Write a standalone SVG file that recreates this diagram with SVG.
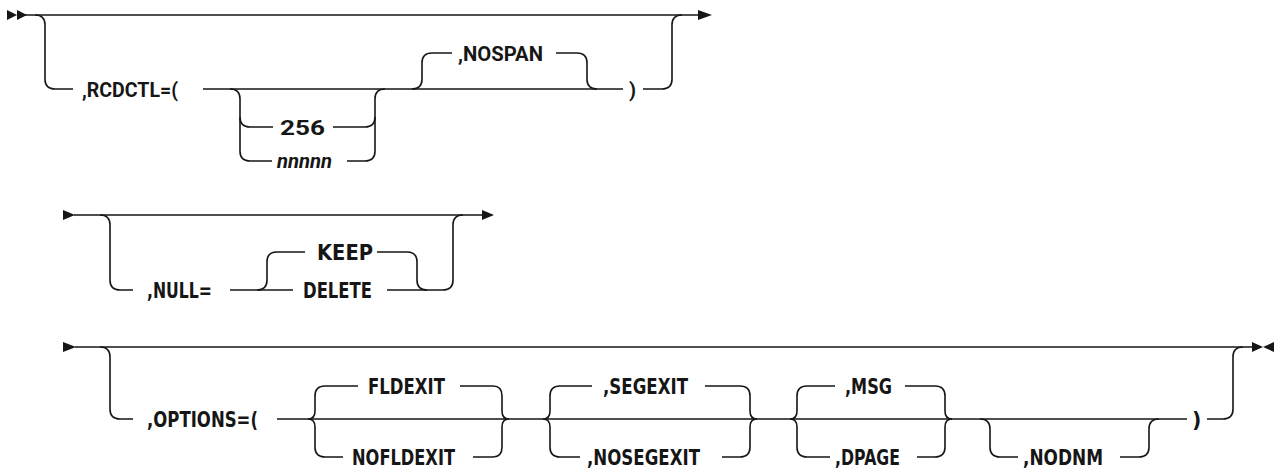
<svg xmlns="http://www.w3.org/2000/svg" width="1282" height="472" viewBox="0 0 1282 472">
<style>
.c{fill:none;stroke:#161616;stroke-width:1.6;stroke-linecap:butt}
.a{fill:#161616}
text{fill:#161616;font-weight:700}
.r1{font-family:Roboto,"Liberation Sans",sans-serif;font-size:20px}
.r2{font-family:"DejaVu Sans","Open Sans",sans-serif;font-size:20.5px}
.it{font-style:italic}
</style>
<rect width="1282" height="472" fill="#ffffff"/>
<g id="connectors">
<!-- row 1 -->
<polygon class="a" points="7,10 17,15 7,20"/>
<polygon class="a" points="17,10 27,15 17,20"/>
<path class="c" d="M25,15 H699"/>
<polygon class="a" points="698,10 712,15 698,20"/>
<path class="c" d="M35,15 Q45,15 45,25 V79 Q45,89 55,89 H73"/>
<path class="c" d="M203,89 H623"/>
<path class="c" d="M230,89 Q240,89 240,99 V151 Q240,161 250,161 H272"/>
<path class="c" d="M240,117 Q240,127 250,127 H273"/>
<path class="c" d="M333,127 H365 Q375,127 375,117"/>
<path class="c" d="M347,161 H365 Q375,161 375,151 V99 Q375,89 385,89"/>
<path class="c" d="M412,89 Q422,89 422,79 V63 Q422,53 432,53 H452"/>
<path class="c" d="M556,53 H577 Q587,53 587,63 V79 Q587,89 597,89"/>
<path class="c" d="M643,89 H662 Q672,89 672,79 V25 Q672,15 682,15"/>
<!-- row 2 -->
<polygon class="a" points="63,210 75,215 63,220"/>
<path class="c" d="M74,215 H483"/>
<polygon class="a" points="482,210 494,215 482,220"/>
<path class="c" d="M100,215 Q110,215 110,225 V280 Q110,290 120,290 H133"/>
<path class="c" d="M230,290 H293"/>
<path class="c" d="M387,290 H443 Q453,290 453,280 V225 Q453,215 463,215"/>
<path class="c" d="M257,290 Q267,290 267,280 V262 Q267,252 277,252 H305"/>
<path class="c" d="M377,252 H407 Q417,252 417,262 V280 Q417,290 427,290"/>
<!-- row 3 -->
<polygon class="a" points="63,342 76,347 63,352"/>
<path class="c" d="M75,347 H1253"/>
<polygon class="a" points="1252,342 1263,347 1252,352"/>
<polygon class="a" points="1274,342 1263,347 1274,352"/>
<path class="c" d="M100,347 Q110,347 110,357 V409 Q110,419 120,419 H133"/>
<path class="c" d="M277,419 H1187"/>
<path class="c" d="M1207,419 H1223 Q1233,419 1233,409 V357 Q1233,347 1243,347"/>
<!-- FLDEXIT group -->
<path class="c" d="M325,386 Q315,386 315,396 V411 Q315,419 308,419 Q315,419 315,427 V447 Q315,457 325,457"/>
<path class="c" d="M325,386 H358 M460,386 H493 M325,457 H343 M473,457 H493"/>
<path class="c" d="M493,386 Q502,386 502,396 V411 Q502,419 509,419 Q502,419 502,427 V447 Q502,457 493,457"/>
<!-- SEGEXIT group -->
<path class="c" d="M560,386 Q550,386 550,396 V411 Q550,419 543,419 Q550,419 550,427 V447 Q550,457 560,457"/>
<path class="c" d="M560,386 H592 M705,386 H740 M560,457 H580 M722,457 H740"/>
<path class="c" d="M740,386 Q750,386 750,396 V411 Q750,419 757,419 Q750,419 750,427 V447 Q750,457 740,457"/>
<!-- MSG group -->
<path class="c" d="M807,386 Q797,386 797,396 V411 Q797,419 790,419 Q797,419 797,427 V447 Q797,457 807,457"/>
<path class="c" d="M807,386 H835 M905,386 H935 M807,457 H830 M917,457 H935"/>
<path class="c" d="M935,386 Q945,386 945,396 V411 Q945,419 952,419 Q945,419 945,427 V447 Q945,457 935,457"/>
<!-- NODNM -->
<path class="c" d="M980,419 Q990,419 990,429 V447 Q990,457 1000,457 H1018"/>
<path class="c" d="M1120,457 H1139 Q1149,457 1149,447 V429 Q1149,419 1159,419"/>
</g>
<g id="n-rcdctl"><text class="r1" x="82" y="96.5" textLength="96" lengthAdjust="spacingAndGlyphs">,RCDCTL=(</text></g>
<g id="n-256"><text class="r1" x="280" y="134.5" textLength="45" lengthAdjust="spacingAndGlyphs">256</text></g>
<g id="n-nnnnn"><text class="r1 it" x="277" y="168" textLength="55" lengthAdjust="spacingAndGlyphs">nnnnn</text></g>
<g id="n-nospan"><text class="r1" x="458" y="60.5" textLength="85" lengthAdjust="spacingAndGlyphs">,NOSPAN</text></g>
<g id="n-rparen1"><text class="r1" x="629" y="96.5">)</text></g>
<g id="n-null"><text class="r2" x="147" y="297.5" textLength="65" lengthAdjust="spacingAndGlyphs">,NULL=</text></g>
<g id="n-keep"><text class="r2" x="317" y="259.5" textLength="56" lengthAdjust="spacingAndGlyphs">KEEP</text></g>
<g id="n-delete"><text class="r2" x="303" y="297.5" textLength="69" lengthAdjust="spacingAndGlyphs">DELETE</text></g>
<g id="n-options"><text class="r2" x="147" y="426.5" textLength="111" lengthAdjust="spacingAndGlyphs">,OPTIONS=(</text></g>
<g id="n-fldexit"><text class="r2" x="368" y="393.5" textLength="77" lengthAdjust="spacingAndGlyphs">FLDEXIT</text></g>
<g id="n-nofldexit"><text class="r2" x="352" y="464.5" textLength="103" lengthAdjust="spacingAndGlyphs">NOFLDEXIT</text></g>
<g id="n-segexit"><text class="r2" x="603" y="393.5" textLength="85" lengthAdjust="spacingAndGlyphs">,SEGEXIT</text></g>
<g id="n-nosegexit"><text class="r2" x="587" y="464.5" textLength="113" lengthAdjust="spacingAndGlyphs">,NOSEGEXIT</text></g>
<g id="n-msg"><text class="r2" x="845" y="393.5" textLength="47" lengthAdjust="spacingAndGlyphs">,MSG</text></g>
<g id="n-dpage"><text class="r2" x="835" y="464.5" textLength="65" lengthAdjust="spacingAndGlyphs">,DPAGE</text></g>
<g id="n-nodnm"><text class="r2" x="1023" y="464.5" textLength="80" lengthAdjust="spacingAndGlyphs">,NODNM</text></g>
<g id="n-rparen2"><text class="r2" x="1192" y="426.5">)</text></g>
</svg>
